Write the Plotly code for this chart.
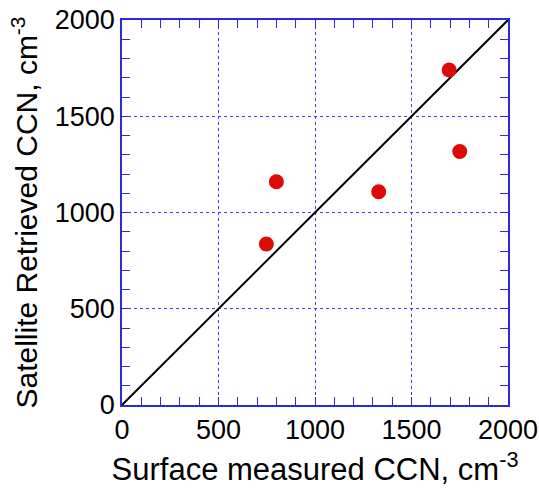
import plotly.graph_objects as go

surface_ccn = [748, 800, 1330, 1695, 1750]
satellite_ccn = [836, 1160, 1108, 1740, 1317]
one_to_one = [0, 2000]
tick_vals = [0, 500, 1000, 1500, 2000]

fig = go.Figure()
fig.add_trace(go.Scatter(x=one_to_one, y=one_to_one, mode="lines",
                         line=dict(color="black", width=2), showlegend=False, hoverinfo="skip"))
fig.add_trace(go.Scatter(x=surface_ccn, y=satellite_ccn, mode="markers",
                         marker=dict(color="#dd0a0a", size=15), showlegend=False))

blue = "#2a2ae0"
font_family = "Liberation Sans, Arial"
axis_common = dict(
    range=[0, 2000], tickvals=tick_vals, ticktext=[str(v) for v in tick_vals],
    showline=True, linecolor=blue, linewidth=1.5, mirror="allticks",
    ticks="inside", ticklen=8, tickcolor=blue, tickwidth=1.2,
    showgrid=True, gridcolor="#3c3cf0", griddash="3px,3px", gridwidth=1.2,
    zeroline=False, automargin=False,
    tickfont=dict(family=font_family, size=27, color="black"),
    minor=dict(ticks="inside", dtick=100, ticklen=8, tickcolor=blue, tickwidth=1.2, showgrid=False),
)

fig.update_xaxes(**axis_common,
                 title=dict(text="Surface measured CCN, cm<sup>-3</sup>",
                            font=dict(family=font_family, size=31, color="black"),
                            standoff=14))
fig.update_yaxes(**axis_common,
                 title=dict(text="Satellite Retrieved CCN, cm<sup>-3</sup>",
                            font=dict(family=font_family, size=30, color="black"),
                            standoff=8))

fig.update_layout(width=539, height=491, margin=dict(l=122, r=31, t=20, b=86),
                  plot_bgcolor="white", paper_bgcolor="white")

fig.write_html("out.html")
